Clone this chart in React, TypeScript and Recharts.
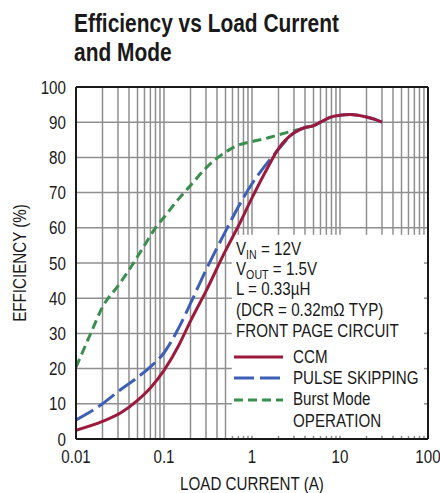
import React from 'react';
import { LineChart, Line, XAxis, YAxis, ReferenceLine, Legend } from 'recharts';

// load current (A) and efficiency (%)
const ccmCurrent = [0.01, 0.02, 0.033, 0.05, 0.07, 0.1, 0.15, 0.2, 0.3, 0.5, 0.7, 1, 1.5, 2, 3, 4, 5, 6, 8, 10, 13, 16, 20, 25, 30];
const ccmEff = [2.5, 5, 7.6, 11, 14.5, 19.5, 27, 33.5, 42, 53.5, 60.5, 68.5, 77, 82.5, 87, 88.5, 89, 90, 91.5, 92, 92.2, 92, 91.5, 90.8, 90];

const skipCurrent = [0.01, 0.02, 0.032, 0.05, 0.07, 0.1, 0.15, 0.2, 0.3, 0.5, 0.7, 1, 1.5, 2, 3, 4, 5, 6, 8, 10, 13, 16, 20, 25, 30];
const skipEff = [5.4, 10, 14, 17.5, 20.5, 24.5, 32, 38.5, 48, 59, 66, 72.5, 78.5, 82.3, 87, 88.5, 89, 90, 91.5, 92, 92.2, 92, 91.5, 90.8, 90];

const burstCurrent = [0.01, 0.015, 0.02, 0.03, 0.04, 0.06, 0.08, 0.1, 0.15, 0.2, 0.3, 0.5, 0.7, 1, 1.5, 2, 3, 4, 5];
const burstEff = [20.4, 30.5, 37.5, 43.5, 48, 55, 60, 63, 68.5, 72, 77, 81.5, 83.5, 84.5, 85.5, 86.4, 87.6, 88.4, 89];

const currentTicks = [0.01, 0.1, 1, 10, 100];
const currentTickLabels = ['0.01', '0.1', '1', '10', '100'];
const effTicks = [0, 10, 20, 30, 40, 50, 60, 70, 80, 90, 100];
const gridCurrents = [0.02, 0.03, 0.04, 0.05, 0.06, 0.07, 0.08, 0.09, 0.1, 0.2, 0.3, 0.4, 0.5, 0.6, 0.7, 0.8, 0.9, 1, 2, 3, 4, 5, 6, 7, 8, 9, 10, 20, 30, 40, 50, 60, 70, 80, 90];
const gridEffs = [10, 20, 30, 40, 50, 60, 70, 80, 90];

const noteLines = ['= 12V', '= 1.5V', 'L = 0.33µH', '(DCR = 0.32mΩ TYP)', 'FRONT PAGE CIRCUIT'];
const seriesNames = ['CCM', 'PULSE SKIPPING', 'Burst Mode OPERATION'];
const seriesColors = ['#9c1a3c', '#3d5fb5', '#3a8f4e'];
const seriesDashes = [undefined, '20 6', '9 5'];

// the note box in the lower right (in data units)
const boxLeft = 0.59;
const boxTop = 58;

const zip = (xs: number[], ys: number[]) => xs.map((x, i) => ({ i: x, eff: ys[i] }));
const ccmData = zip(ccmCurrent, ccmEff);
const skipData = zip(skipCurrent, skipEff);
const burstData = zip(burstCurrent, burstEff);

// no condensed face installed, so squeeze Liberation Sans horizontally
const FONT = "'Liberation Sans', Arial, sans-serif";
const SQ = 0.82;
const GRID = '#8f8f8f';
const INK = '#1a1a1a';

const squeeze = (x: number) => `matrix(${SQ} 0 0 1 ${x * (1 - SQ)} 0)`;

const NText = ({ x, y, children, anchor = 'start', size = 18.5, dy }: any) => (
  <text x={x} y={y} dy={dy} textAnchor={anchor} transform={squeeze(x)} fontFamily={FONT} fontSize={size} fill={INK}>
    {children}
  </text>
);

const XTick = ({ x, y, payload }: any) => (
  <NText x={x} y={y} dy="0.71em" anchor="middle">
    {currentTickLabels[currentTicks.indexOf(payload.value)] ?? String(payload.value)}
  </NText>
);

const YTick = ({ x, y, payload }: any) => (
  <NText x={x} y={y} dy="0.355em" anchor="end">{payload.value}</NText>
);

const YTitle = ({ viewBox }: any) => {
  const cx = 20;
  const cy = viewBox.y + viewBox.height / 2;
  return (
    <text x={cx} y={cy} transform={`rotate(-90 ${cx} ${cy}) ${squeeze(cx)}`} textAnchor="middle" dominantBaseline="central"
      fontFamily={FONT} fontSize={18.5} fill={INK}>
      EFFICIENCY (%)
    </text>
  );
};

const XTitle = ({ viewBox }: any) => (
  <NText x={viewBox.x + viewBox.width / 2} y={490} anchor="middle">LOAD CURRENT (A)</NText>
);

const Note = () => {
  const sub = (main: string, s: string, rest: string, y: number) => (
    <NText x={4} y={y}>
      {main}
      <tspan fontSize={13} dy={4}>{s}</tspan>
      <tspan dy={-4}> {rest}</tspan>
    </NText>
  );
  const rowY = [123, 144, 166];
  return (
    <svg width={196} height={205} style={{ display: 'block', overflow: 'visible' }}>
      {sub('V', 'IN', noteLines[0], 21)}
      {sub('V', 'OUT', noteLines[1], 41)}
      <NText x={4} y={61.5}>{noteLines[2]}</NText>
      <NText x={4} y={82.5}>{noteLines[3]}</NText>
      <NText x={4} y={103.5}>{noteLines[4]}</NText>
      {seriesNames.map((name, k) => (
        <g key={name}>
          <line x1={2} x2={51} y1={rowY[k]} y2={rowY[k]} stroke={seriesColors[k]}
            strokeWidth={3} strokeDasharray={seriesDashes[k]} />
          {k < 2 ? (
            <NText x={61} y={rowY[k] + 6}>{name}</NText>
          ) : (
            <>
              <NText x={61} y={rowY[k] + 5}>Burst Mode</NText>
              <NText x={61} y={rowY[k] + 27}>OPERATION</NText>
            </>
          )}
        </g>
      ))}
    </svg>
  );
};

export default function App() {
  return (
    <div style={{ position: 'relative', width: 440, height: 493, background: '#fff' }}>
      <style>{'body{margin:0}'}</style>
      <div style={{ position: 'absolute', left: 74, top: 9, zIndex: 2, fontFamily: FONT, fontWeight: 700,
        fontSize: 25.5, lineHeight: '29px', color: INK, whiteSpace: 'nowrap',
        transform: `scaleX(${SQ})`, transformOrigin: 'left top' }}>
        Efficiency vs Load Current<br />and Mode
      </div>
      <LineChart width={440} height={493} margin={{ top: 87, right: 12, bottom: 0, left: 0 }}>
        <XAxis type="number" dataKey="i" scale="log" domain={[0.01, 100]} ticks={currentTicks}
          allowDataOverflow height={54} tickLine={false} tickMargin={5} axisLine={{ stroke: INK, strokeWidth: 2 }}
          tick={<XTick />} label={<XTitle />} />
        <YAxis type="number" domain={[0, 100]} ticks={effTicks} width={76} tickLine={false} tickMargin={4}
          axisLine={{ stroke: INK, strokeWidth: 2 }} tick={<YTick />} label={<YTitle />} />

        {gridCurrents.map((c) =>
          c < boxLeft ? (
            <ReferenceLine key={`v${c}`} x={c} stroke={GRID} strokeWidth={1.5} />
          ) : (
            <ReferenceLine key={`v${c}`} segment={[{ x: c, y: boxTop }, { x: c, y: 100 }]} stroke={GRID} strokeWidth={1.5} />
          )
        )}
        {gridCurrents.filter((c) => c >= boxLeft).map((c) => (
          <ReferenceLine key={`t${c}`} segment={[{ x: c, y: 0 }, { x: c, y: 0.9 }]} stroke={GRID} strokeWidth={1.5} />
        ))}
        {gridEffs.map((e) =>
          e > boxTop ? (
            <ReferenceLine key={`h${e}`} y={e} stroke={GRID} strokeWidth={1.5} />
          ) : (
            <ReferenceLine key={`h${e}`} segment={[{ x: 0.01, y: e }, { x: boxLeft, y: e }]} stroke={GRID} strokeWidth={1.5} />
          )
        )}
        {gridEffs.filter((e) => e < boxTop).map((e) => (
          <ReferenceLine key={`r${e}`} segment={[{ x: 90, y: e }, { x: 100, y: e }]} stroke={GRID} strokeWidth={1.5} />
        ))}
        <ReferenceLine y={100} stroke={INK} strokeWidth={2} />
        <ReferenceLine x={100} stroke={INK} strokeWidth={2} />

        {/* CCM last so it sits on top where the curves merge */}
        <Line data={burstData} dataKey="eff" name={seriesNames[2]} type="monotone" stroke={seriesColors[2]} strokeWidth={3}
          strokeDasharray={seriesDashes[2]} dot={false} isAnimationActive={false} />
        <Line data={skipData} dataKey="eff" name={seriesNames[1]} type="monotone" stroke={seriesColors[1]} strokeWidth={3}
          strokeDasharray={seriesDashes[1]} dot={false} isAnimationActive={false} />
        <Line data={ccmData} dataKey="eff" name={seriesNames[0]} type="monotone" stroke={seriesColors[0]} strokeWidth={3}
          dot={false} isAnimationActive={false} />

        <Legend layout="horizontal" verticalAlign="middle" align="center" content={<Note />}
          wrapperStyle={{ left: 232, top: 234, width: 196, height: 205 }} />
      </LineChart>
    </div>
  );
}
